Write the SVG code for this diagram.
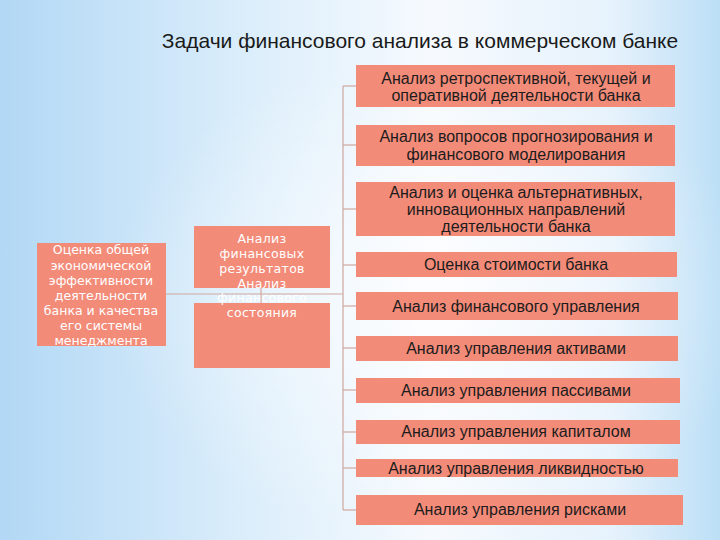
<svg xmlns="http://www.w3.org/2000/svg" width="720" height="540" viewBox="0 0 720 540">
<defs>
<linearGradient id="bg" x1="0" y1="0" x2="1" y2="0">
<stop offset="0" stop-color="#b2d8f5"/>
<stop offset="0.35" stop-color="#dceefb"/>
<stop offset="0.6" stop-color="#f6fafe"/>
<stop offset="0.85" stop-color="#e6f2fc"/>
<stop offset="1" stop-color="#bcdff6"/>
</linearGradient>
<radialGradient id="glow" cx="0.6" cy="0.55" r="0.45">
<stop offset="0" stop-color="#ffffff" stop-opacity="0.7"/>
<stop offset="1" stop-color="#ffffff" stop-opacity="0"/>
</radialGradient>
<style>
.box{fill:#f38b79;}
.dark{font-family:"Liberation Sans","DejaVu Sans",sans-serif;font-size:16px;fill:#1c1c1c;text-anchor:middle;}
.white{font-family:"DejaVu Sans","Liberation Sans",sans-serif;font-size:12.5px;fill:#ffffff;text-anchor:middle;}
.mid{font-size:12.5px;letter-spacing:0.3px;}
.title{font-family:"Liberation Sans","DejaVu Sans",sans-serif;font-size:21px;fill:#1a1a1a;text-anchor:middle;}
.ln{stroke:#cfa7a0;stroke-width:1.2;fill:none;}
</style>
</defs>
<rect width="720" height="540" fill="url(#bg)"/>
<rect width="720" height="540" fill="url(#glow)"/>
<text class="title" x="420" y="48">Задачи финансового анализа в коммерческом банке</text>

<g id="connectors">
<line class="ln" x1="343" y1="86" x2="343" y2="510"/>
<line class="ln" x1="343" y1="86" x2="357" y2="86"/>
<line class="ln" x1="343" y1="145" x2="357" y2="145"/>
<line class="ln" x1="343" y1="209" x2="357" y2="209"/>
<line class="ln" x1="343" y1="265" x2="357" y2="265"/>
<line class="ln" x1="343" y1="306" x2="357" y2="306"/>
<line class="ln" x1="343" y1="348" x2="357" y2="348"/>
<line class="ln" x1="343" y1="390" x2="357" y2="390"/>
<line class="ln" x1="343" y1="432" x2="357" y2="432"/>
<line class="ln" x1="343" y1="468" x2="357" y2="468"/>
<line class="ln" x1="343" y1="510" x2="357" y2="510"/>
<line class="ln" x1="166" y1="294" x2="343" y2="294"/>
<line class="ln" x1="261" y1="288" x2="261" y2="303"/>
</g>

<g id="n1"><rect class="box" x="356" y="65" width="319" height="42"/>
<text class="dark" x="516" y="84">Анализ ретроспективной, текущей и</text>
<text class="dark" x="516" y="101">оперативной деятельности банка</text></g>
<g id="n2"><rect class="box" x="356" y="125" width="319" height="41"/>
<text class="dark" x="516" y="142">Анализ вопросов прогнозирования и</text>
<text class="dark" x="516" y="160">финансового моделирования</text></g>
<g id="n3"><rect class="box" x="356" y="182" width="319" height="54"/>
<text class="dark" x="516" y="198">Анализ и оценка альтернативных,</text>
<text class="dark" x="516" y="215">инновационных направлений</text>
<text class="dark" x="516" y="232">деятельности банка</text></g>
<g id="n4"><rect class="box" x="356" y="252" width="321" height="25"/>
<text class="dark" x="516" y="270">Оценка стоимости банка</text></g>
<g id="n5"><rect class="box" x="356" y="292" width="322" height="28"/>
<text class="dark" x="516" y="312">Анализ финансового управления</text></g>
<g id="n6"><rect class="box" x="356" y="336" width="322" height="25"/>
<text class="dark" x="516" y="354">Анализ управления активами</text></g>
<g id="n7"><rect class="box" x="356" y="378" width="324" height="25"/>
<text class="dark" x="516" y="396">Анализ управления пассивами</text></g>
<g id="n8"><rect class="box" x="356" y="420" width="324" height="24"/>
<text class="dark" x="516" y="437">Анализ управления капиталом</text></g>
<g id="n9"><rect class="box" x="356" y="459" width="322" height="18"/>
<text class="dark" x="516" y="474">Анализ управления ликвидностью</text></g>
<g id="n10"><rect class="box" x="356" y="495" width="327" height="30"/>
<text class="dark" x="520" y="515">Анализ управления рисками</text></g>

<g id="left"><rect class="box" x="37" y="243" width="129" height="103"/>
<text class="white" x="101" y="254">Оценка общей</text>
<text class="white" x="101" y="270">экономической</text>
<text class="white" x="101" y="285">эффективности</text>
<text class="white" x="101" y="300">деятельности</text>
<text class="white" x="101" y="315">банка и качества</text>
<text class="white" x="101" y="330">его системы</text>
<text class="white" x="101" y="345">менеджмента</text></g>

<g id="midA"><rect class="box" x="194" y="226" width="136" height="62"/>
<text class="white mid" x="262" y="243">Анализ</text>
<text class="white mid" x="262" y="258">финансовых</text>
<text class="white mid" x="262" y="273">результатов</text></g>
<g id="midB"><rect class="box" x="194" y="303" width="136" height="65"/>
<text class="white mid" x="262" y="288">Анализ</text>
<text class="white mid" x="262" y="302">финансового</text>
<text class="white mid" x="262" y="317">состояния</text></g>
</svg>
